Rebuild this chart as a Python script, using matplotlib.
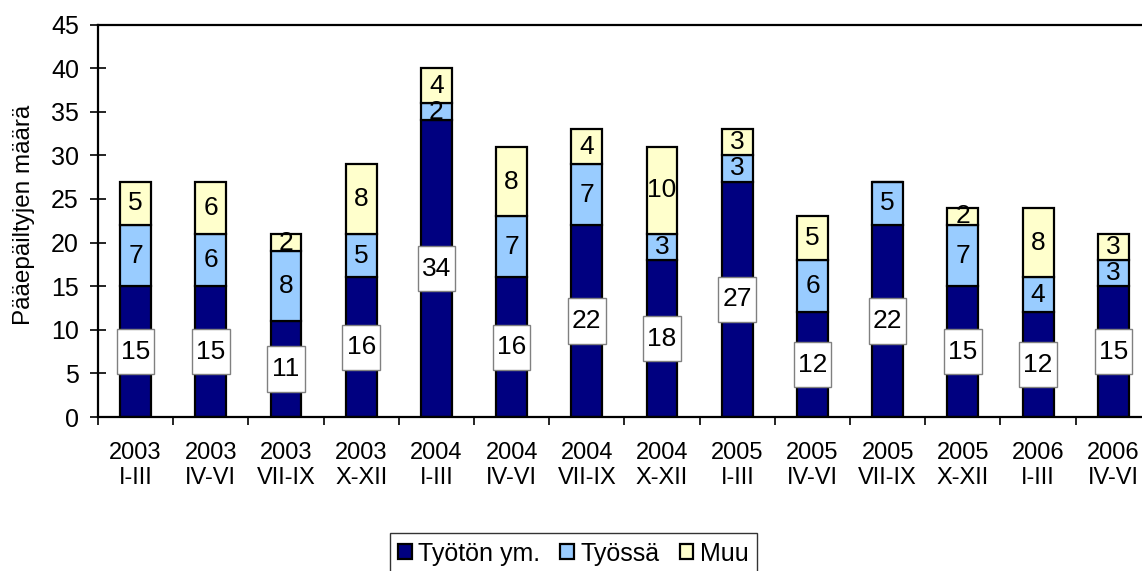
import matplotlib.pyplot as plt
from matplotlib.patches import Rectangle
import numpy as np

plt.rcParams['font.family'] = ['Liberation Sans', 'DejaVu Sans']

years = ['2003', '2003', '2003', '2003', '2004', '2004', '2004', '2004',
         '2005', '2005', '2005', '2005', '2006', '2006']
quarters = ['I-III', 'IV-VI', 'VII-IX', 'X-XII', 'I-III', 'IV-VI', 'VII-IX', 'X-XII',
            'I-III', 'IV-VI', 'VII-IX', 'X-XII', 'I-III', 'IV-VI']
tyoton = [15, 15, 11, 16, 34, 16, 22, 18, 27, 12, 22, 15, 12, 15]
tyossa = [7, 6, 8, 5, 2, 7, 7, 3, 3, 6, 5, 7, 4, 3]
muu = [5, 6, 2, 8, 4, 8, 4, 10, 3, 5, 0, 2, 8, 3]

navy = '#000080'
lblue = '#99ccff'
lyell = '#ffffcc'

fig = plt.figure(figsize=(11.42, 5.71), dpi=100)
ax = fig.add_axes((0.0858, 0.2697, 0.922, 0.6873))

x = np.arange(len(years))
w = 0.41
b1 = ax.bar(x, tyoton, w, color=navy, edgecolor='black', lw=1.6, zorder=2,
            label='Työtön ym.')
b2 = ax.bar(x, tyossa, w, bottom=tyoton, color=lblue, edgecolor='black', lw=1.6,
            zorder=2, label='Työssä')
bot3 = np.array(tyoton) + np.array(tyossa)
b3 = ax.bar(x, muu, w, bottom=bot3, color=lyell, edgecolor='black', lw=1.6,
            zorder=2, label='Muu')

# labels for the bottom series in white boxes
for i, v in enumerate(tyoton):
    yc = v / 2
    ax.add_patch(Rectangle((i - 0.25, yc - 2.6), 0.5, 5.2, facecolor='white',
                           edgecolor='#808080', lw=1.0, zorder=3))
    ax.text(i, yc, str(v), ha='center', va='center', fontsize=19, zorder=4)

for i, v in enumerate(tyossa):
    if v:
        ax.text(i, tyoton[i] + v / 2, str(v), ha='center', va='center',
                fontsize=19, zorder=4)
for i, v in enumerate(muu):
    if v:
        ax.text(i, bot3[i] + v / 2, str(v), ha='center', va='center',
                fontsize=19, zorder=4)

ax.set_xlim(-0.5, len(years) - 0.5)
ax.set_ylim(0, 45)
ax.set_yticks(range(0, 46, 5))
ax.tick_params(axis='y', direction='inout', length=11.5, width=1.2,
               labelsize=18, pad=8)
ax.set_xticks(x)
ax.set_xticklabels([f'{a}\n{b}' for a, b in zip(years, quarters)], fontsize=17,
                   linespacing=1.2)
ax.set_xticks(np.arange(-0.5, len(years), 1), minor=True)
ax.tick_params(axis='x', which='major', length=0, pad=18)
ax.tick_params(axis='x', which='minor', direction='out', length=6, width=1.2)
for s in ax.spines.values():
    s.set_linewidth(1.6)

ax.set_ylabel('Pääepäiltyjen määrä', fontsize=17.5)
ax.yaxis.set_label_coords(-0.06, 0.515)

leg = fig.legend(handles=[b1, b2, b3], loc='lower center', ncol=3,
                 bbox_to_anchor=(0.502, -0.006), fontsize=18, frameon=True,
                 fancybox=False, edgecolor='black', handlelength=0.55,
                 handleheight=0.55, handletextpad=0.25, columnspacing=0.8,
                 borderpad=0.35, borderaxespad=0)
leg.get_frame().set_linewidth(1.0)

fig.savefig('out.png', dpi=100)
